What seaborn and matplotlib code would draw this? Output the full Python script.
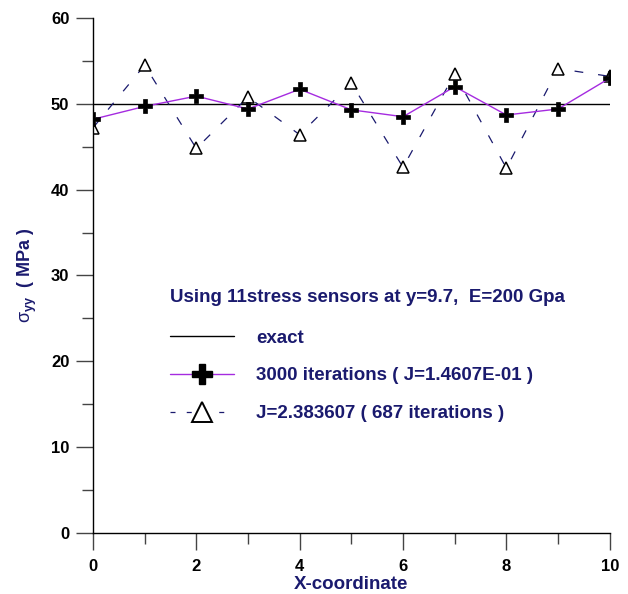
import matplotlib
matplotlib.use("Agg")
import matplotlib.pyplot as plt
import seaborn as sns
import pandas as pd
from matplotlib.lines import Line2D
from matplotlib.ticker import MultipleLocator

x_coord = [0, 1, 2, 3, 4, 5, 6, 7, 8, 9, 10]
iter3000 = [48.2, 49.7, 50.9, 49.4, 51.7, 49.3, 48.5, 52.0, 48.7, 49.4, 53.0]
iter687 = [47.2, 54.5, 44.8, 50.8, 46.4, 52.4, 42.6, 53.5, 42.5, 54.1, 53.2]
exact_value = 50

sns.set_theme(style="ticks")
plt.rcParams['font.family'] = ['Liberation Sans', 'DejaVu Sans']
plt.rcParams['mathtext.fontset'] = 'custom'
plt.rcParams['mathtext.rm'] = 'Liberation Sans'
plt.rcParams['mathtext.bf'] = 'Liberation Sans:bold'
plt.rcParams['mathtext.it'] = 'Liberation Sans:italic'

navy = "#1a1a6e"
purple = "#a52be0"

fig = plt.figure(figsize=(6.28, 5.94), dpi=100)
ax = fig.add_axes([0.148, 0.1027, 0.823, 0.867])

ax.axhline(exact_value, color="black", lw=1.0, zorder=1)
df = pd.DataFrame({"x": x_coord, "a": iter3000, "b": iter687})
sns.lineplot(data=df, x="x", y="b", ax=ax, color=navy, lw=0.9, dashes=False,
             linestyle=(0, (7, 12)), marker="^", markersize=8,
             markerfacecolor="white", markeredgecolor="black", markeredgewidth=1.1, zorder=2)
sns.lineplot(data=df, x="x", y="a", ax=ax, color=purple, lw=1.0,
             marker="P", markersize=9.5, markerfacecolor="black",
             markeredgecolor="black", markeredgewidth=0.5, zorder=3)

ax.set_xlim(0, 10)
ax.set_ylim(0, 60)
ax.xaxis.set_major_locator(MultipleLocator(2))
ax.xaxis.set_minor_locator(MultipleLocator(1))
ax.yaxis.set_major_locator(MultipleLocator(10))
ax.yaxis.set_minor_locator(MultipleLocator(5))
ax.tick_params(axis="y", which="major", length=12, width=1, color="#444444", direction="out", pad=5)
ax.tick_params(axis="x", which="major", length=12, width=1, color="#444444", direction="out", pad=7)
ax.tick_params(which="minor", length=8, width=1, color="#444444", direction="out")
for lab in ax.get_xticklabels() + ax.get_yticklabels():
    lab.set_fontweight("bold")
    lab.set_fontsize(12)
    lab.set_color("black")
sns.despine(ax=ax)
for s in ["left", "bottom"]:
    ax.spines[s].set_color("black")
    ax.spines[s].set_linewidth(1.0)

ax.set_xlabel("X-coordinate", fontsize=13.5, fontweight="bold", color=navy, labelpad=1.5)
ax.set_ylabel(r"$\mathrm{\sigma}_{\mathbf{yy}}$  ( MPa )", fontsize=13, fontweight="bold",
              color=navy, labelpad=8)
ax.yaxis.set_label_coords(-0.105, 0.5)

handles = [
    Line2D([], [], color="black", lw=1.0),
    Line2D([], [], color=purple, lw=1.0, marker="P", markersize=15,
           markerfacecolor="black", markeredgecolor="black"),
    Line2D([], [], color=navy, lw=0.9, linestyle=(0, (4, 9)), marker="^", markersize=15,
           markerfacecolor="white", markeredgecolor="black", markeredgewidth=1.4),
]
labels = ["exact", "3000 iterations ( J=1.4607E-01 )", "J=2.383607 ( 687 iterations )"]
leg = ax.legend(handles, labels, title="Using 11stress sensors at y=9.7,  E=200 Gpa",
                loc="upper left", bbox_to_anchor=(153 / 628, 1 - 272 / 594),
                bbox_transform=fig.transFigure, frameon=False, handlelength=3.4,
                handletextpad=1.2, labelspacing=1.1, alignment="left",
                prop={"weight": "bold", "size": 13.5})
leg.get_title().set_fontweight("bold")
leg.get_title().set_fontsize(13.5)
leg.get_title().set_color(navy)
for t in leg.get_texts():
    t.set_color(navy)
leg._legend_box.sep = 17

fig.savefig("out.png", dpi=100)
